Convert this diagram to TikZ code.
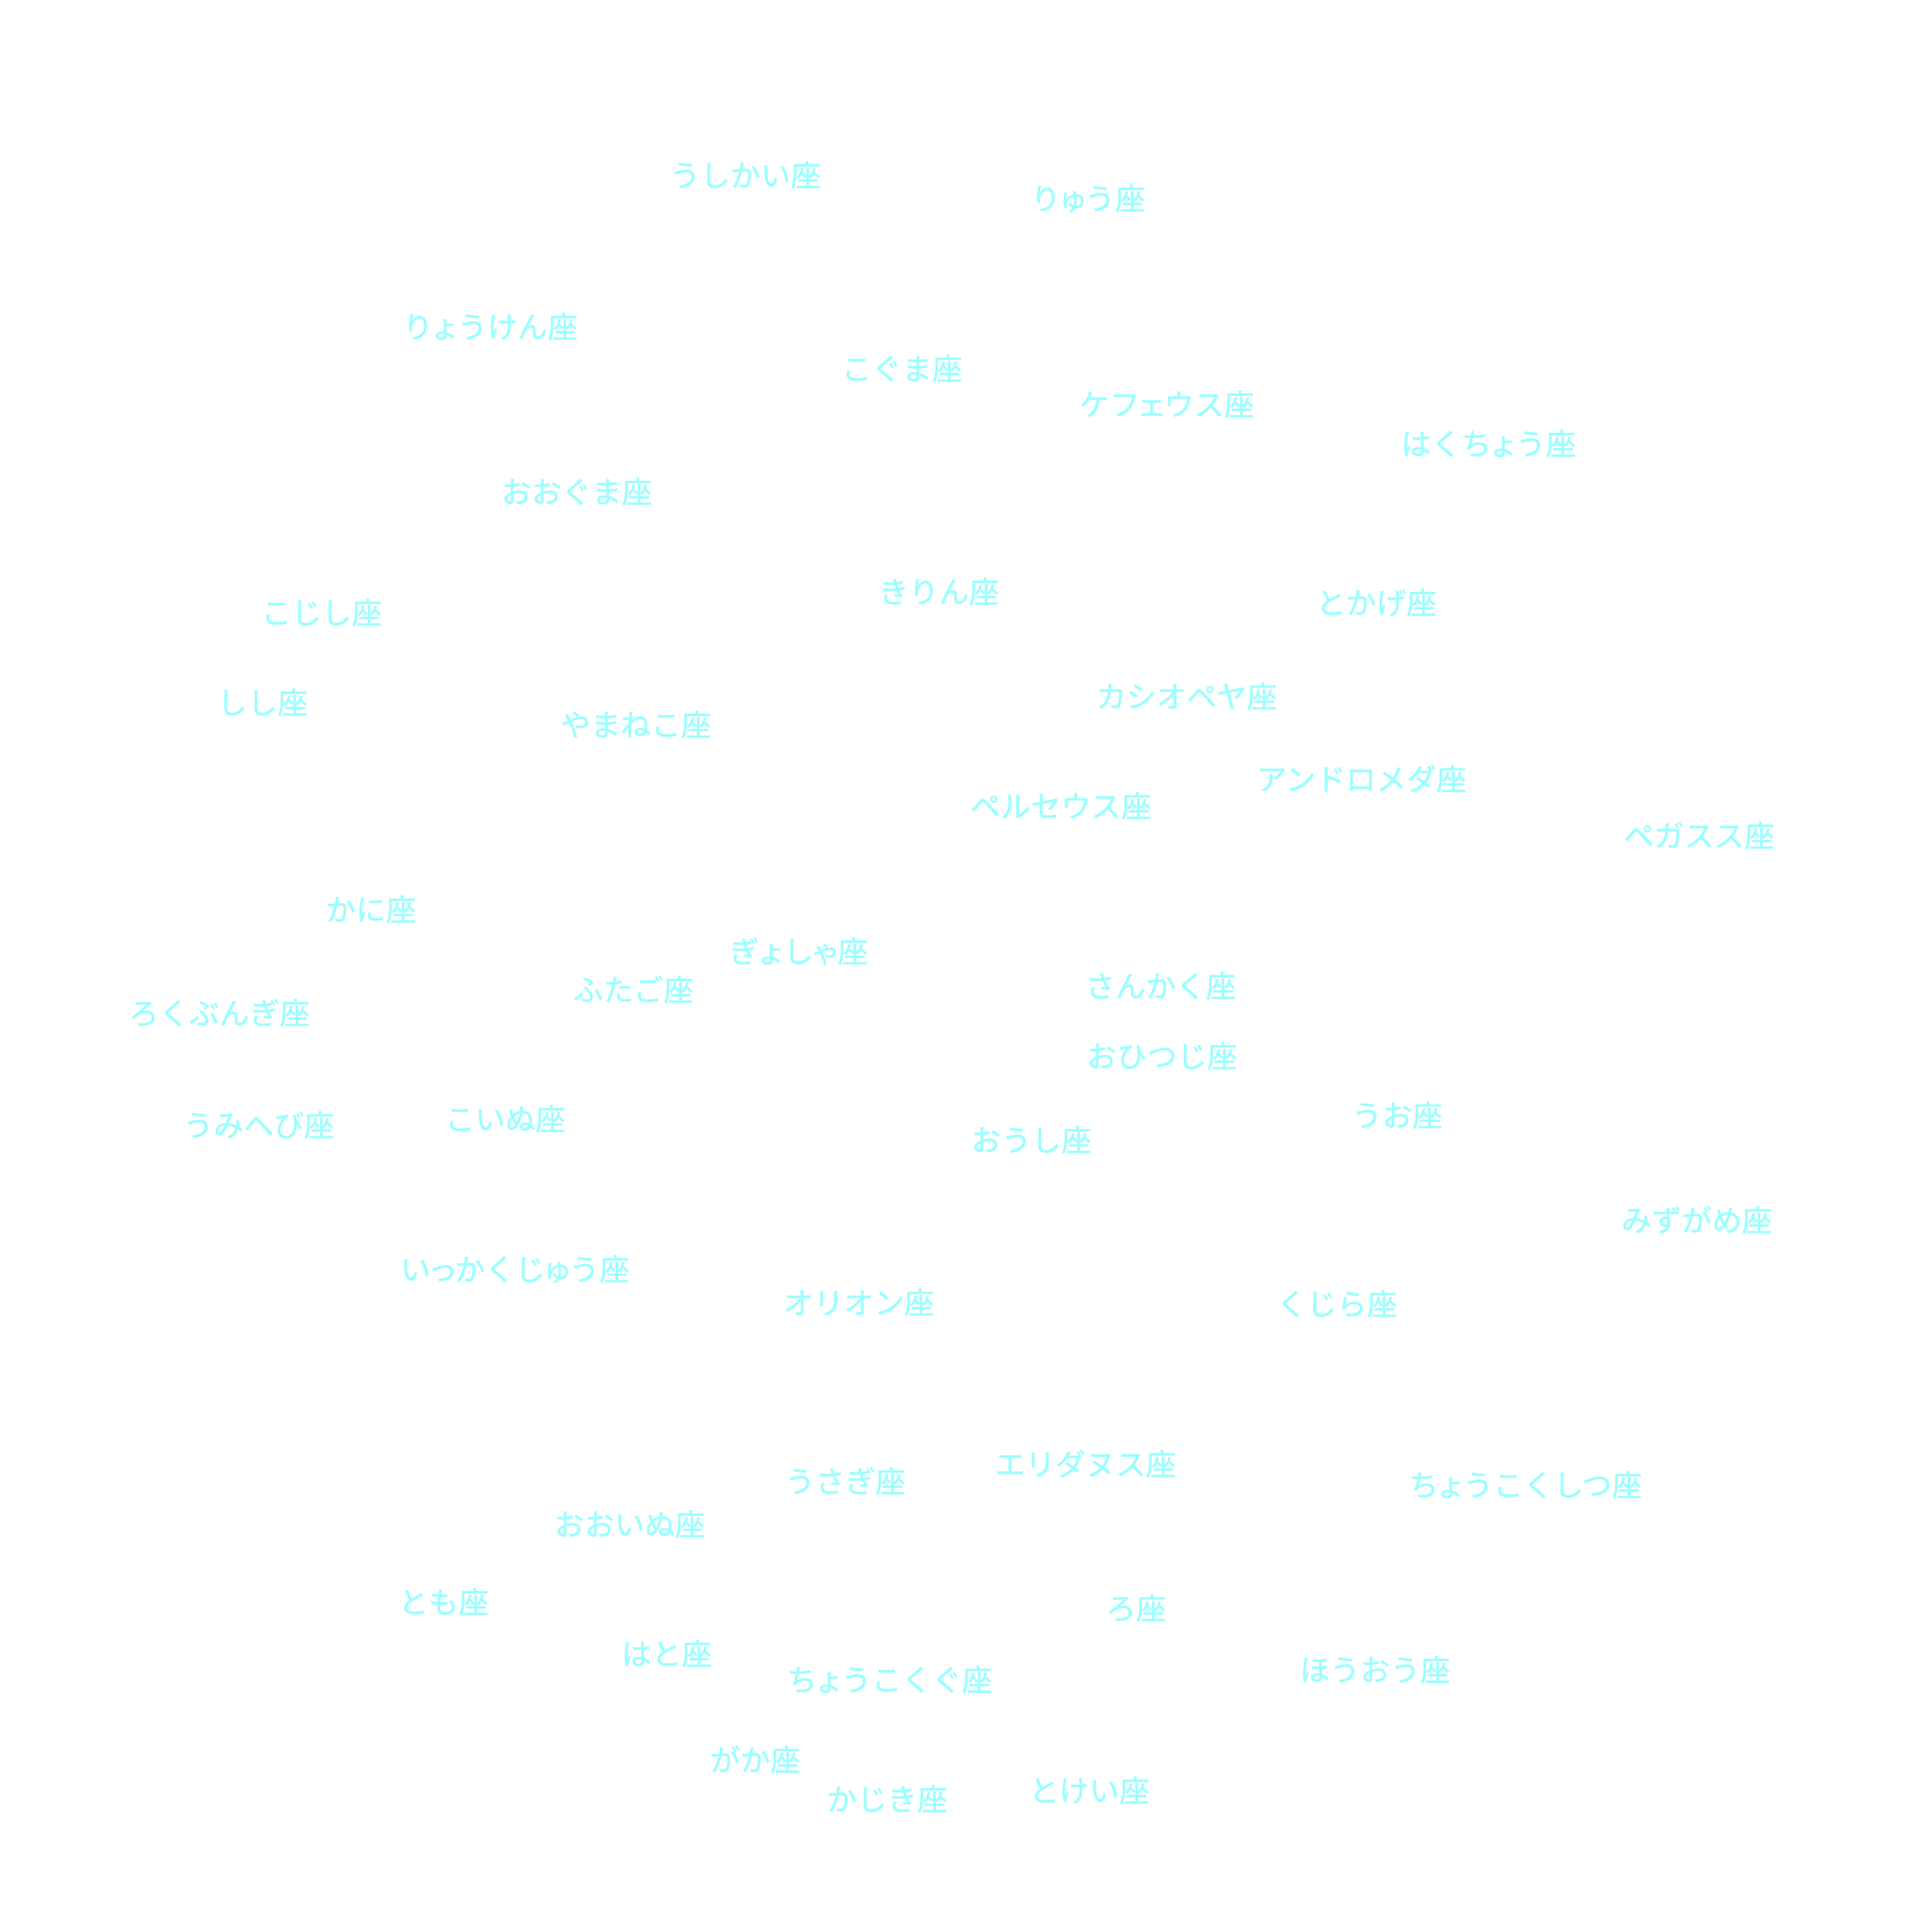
\documentclass[tikz,border=0pt]{standalone}
\usepackage{fontspec}
\newfontfamily\jp[FakeBold=0.8]{Noto Sans CJK JP}
\newcommand\smk[1]{\kern-0.1em#1\kern-0.1em}
\definecolor{cyantext}{HTML}{99FFFF}
\begin{document}
\begin{tikzpicture}[x=0.01722cm,y=-0.01722cm,
  lbl/.style={text=cyantext,font=\jp\fontsize{12}{14}\selectfont,inner sep=0pt}]
\fill[white] (0,0) rectangle (1568,1568);
\useasboundingbox (0,0) rectangle (1568,1568);
\node[lbl] (n1) at (605,142) {うしかい座};
\node[lbl] (n2) at (883,161) {り\smk{ゅ}う座};
\node[lbl] (n3) at (398,265) {り\smk{ょ}うけん座};
\node[lbl] (n4) at (732,299) {こぐま座};
\node[lbl] (n5) at (947,328) {ケフ\smk{ェ}ウス座};
\node[lbl] (n6) at (1208,360) {はくち\smk{ょ}う座};
\node[lbl] (n7) at (468,399) {おおぐま座};
\node[lbl] (n8) at (762,480) {きりん座};
\node[lbl] (n9) at (1117,489) {とかげ座};
\node[lbl] (n10) at (261,497) {こじし座};
\node[lbl] (n11) at (213,570) {しし座};
\node[lbl] (n12) at (516,588) {やまねこ座};
\node[lbl] (n13) at (963,565) {カシオペヤ座};
\node[lbl] (n14) at (1105,632) {アンドロメダ座};
\node[lbl] (n15) at (861,654) {ペルセウス座};
\node[lbl] (n16) at (1379,678) {ペガスス座};
\node[lbl] (n17) at (301,738) {かに座};
\node[lbl] (n18) at (648,772) {ぎ\smk{ょ}し\smk{ゃ}座};
\node[lbl] (n19) at (514,803) {ふたご座};
\node[lbl] (n20) at (942,800) {さんかく座};
\node[lbl] (n21) at (178,822) {ろくぶんぎ座};
\node[lbl] (n22) at (943,857) {おひつじ座};
\node[lbl] (n23) at (1134,905) {うお座};
\node[lbl] (n24) at (210,913) {うみへび座};
\node[lbl] (n25) at (410,908) {こいぬ座};
\node[lbl] (n26) at (837,925) {おうし座};
\node[lbl] (n27) at (1377,990) {みずがめ座};
\node[lbl] (n28) at (418,1030) {い\smk{っ}かくじ\smk{ゅ}う座};
\node[lbl] (n29) at (697,1057) {オリオン座};
\node[lbl] (n30) at (1085,1058) {くじら座};
\node[lbl] (n31) at (686,1202) {うさぎ座};
\node[lbl] (n32) at (881,1188) {エリダヌス座};
\node[lbl] (n33) at (1238,1205) {ち\smk{ょ}うこくしつ座};
\node[lbl] (n34) at (511,1237) {おおいぬ座};
\node[lbl] (n35) at (360,1300) {とも座};
\node[lbl] (n36) at (922,1305) {ろ座};
\node[lbl] (n37) at (541,1342) {はと座};
\node[lbl] (n38) at (722,1363) {ち\smk{ょ}うこくぐ座};
\node[lbl] (n39) at (1116,1355) {ほうおう座};
\node[lbl] (n40) at (613,1428) {がか座};
\node[lbl] (n41) at (720,1460) {かじき座};
\node[lbl] (n42) at (884,1453) {とけい座};
\end{tikzpicture}
\end{document}
